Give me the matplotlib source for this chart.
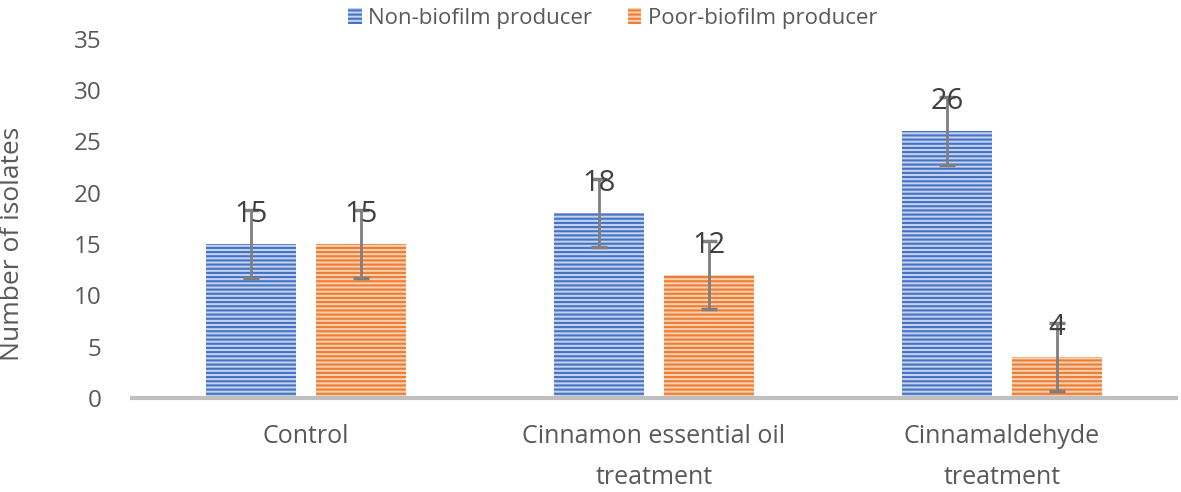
import numpy as np
import matplotlib
matplotlib.use("Agg")
import matplotlib.pyplot as plt

categories = ["Control", "Cinnamon essential oil\ntreatment", "Cinnamaldehyde\ntreatment"]
non_biofilm = [15, 18, 26]
poor_biofilm = [15, 12, 4]
non_err = [3.3, 3.3, 3.3]
poor_err = [3.3, 3.3, 3.3]
series_names = ["Non-biofilm producer", "Poor-biofilm producer"]

plt.rcParams['font.family'] = ['Open Sans', 'DejaVu Sans']
plt.rcParams['hatch.linewidth'] = 1.5

fig = plt.figure(figsize=(11.81, 4.92), dpi=100)
ax = fig.add_axes([0.1118, 0.191, 0.884, 0.73])

x = np.arange(len(categories))
w = 0.258
off = 0.158
blue, orange = '#4472C4', '#ED7D31'
b1 = ax.bar(x - off, non_biofilm, w, color='#c3d2ee', edgecolor=blue, linewidth=0,
            hatch='----', label=series_names[0])
b2 = ax.bar(x + off, poor_biofilm, w, color='#f9cfb2', edgecolor=orange, linewidth=0,
            hatch='----', label=series_names[1])
ax.errorbar(x - off, non_biofilm, yerr=non_err, fmt='none', ecolor='#7f7f7f',
            elinewidth=2, capsize=6, capthick=2.5, zorder=4)
ax.errorbar(x + off, poor_biofilm, yerr=poor_err, fmt='none', ecolor='#7f7f7f',
            elinewidth=2, capsize=6, capthick=2.5, zorder=4)

for xs, vals in [(x - off, non_biofilm), (x + off, poor_biofilm)]:
    for xi, v in zip(xs, vals):
        ax.annotate(str(v), (xi, v), xytext=(0, 16), textcoords='offset points',
                    ha='center', va='baseline', fontsize=21, color='#404040', zorder=5)

ax.set_xlim(-0.5, 2.5)
ax.set_ylim(0, 35)
ax.set_yticks(range(0, 36, 5))
ax.set_xticks(x)
ax.set_xticklabels(categories, fontsize=18, color='#595959', linespacing=1.8)
ax.tick_params(axis='y', labelsize=17.5, labelcolor='#595959', length=0, pad=22)
ax.tick_params(axis='x', length=0, pad=19)
for s in ['top', 'right', 'left']:
    ax.spines[s].set_visible(False)
ax.spines['bottom'].set_color('#bfbfbf')
ax.spines['bottom'].set_linewidth(3)
ax.set_ylabel("Number of isolates", fontsize=19, color='#595959')
ax.yaxis.set_label_coords(-0.103, 0.43)

fig.legend(handles=[b1, b2], loc='upper center', bbox_to_anchor=(0.519, 1.025), ncol=2,
           frameon=False, fontsize=16, labelcolor='#595959', handlelength=0.6,
           handleheight=0.7, handletextpad=0.3, columnspacing=1.6)

fig.savefig("out.png", dpi=100)
